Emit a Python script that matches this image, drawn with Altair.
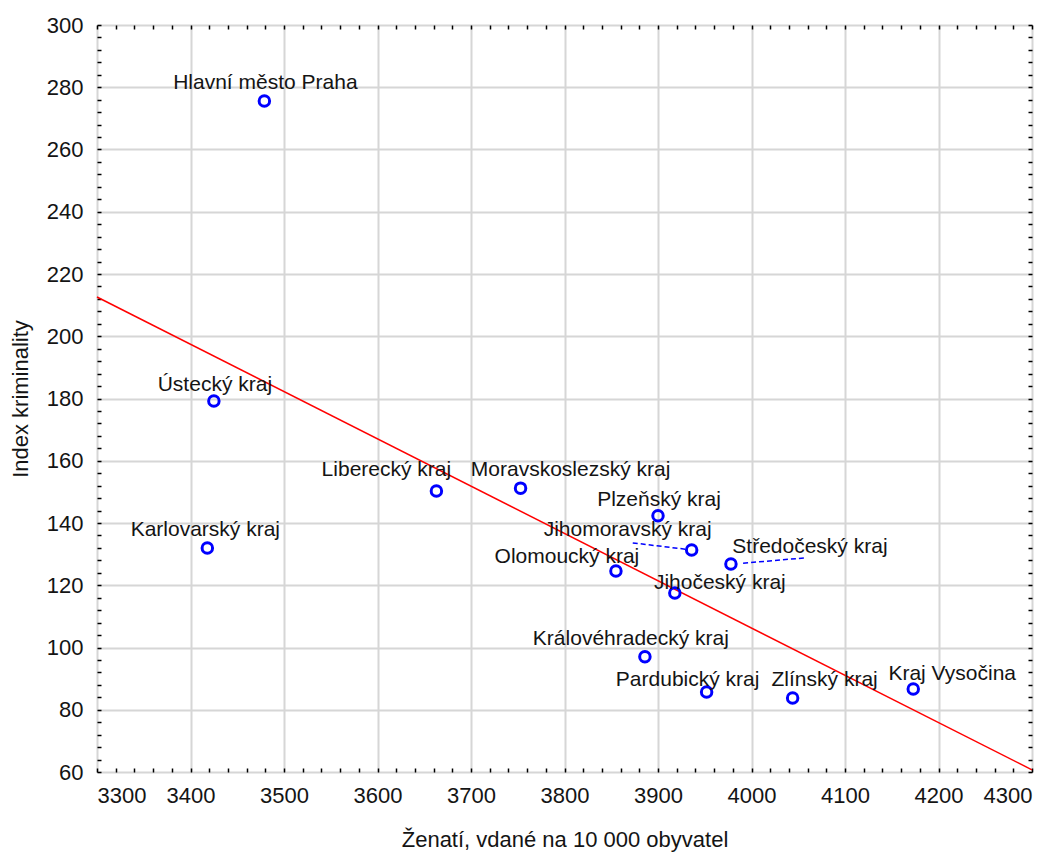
import altair as alt
import pandas as pd

# ---- data ----
regions = [
    "Hlavní město Praha", "Ústecký kraj", "Karlovarský kraj", "Liberecký kraj",
    "Moravskoslezský kraj", "Plzeňský kraj", "Jihomoravský kraj", "Středočeský kraj",
    "Olomoucký kraj", "Jihočeský kraj", "Královéhradecký kraj", "Pardubický kraj",
    "Zlínský kraj", "Kraj Vysočina",
]
married = [3479, 3425, 3418, 3663, 3753, 3900, 3936, 3978, 3855, 3918, 3886, 3952, 4044, 4173]
crime_index = [275.6, 179.2, 132.0, 150.3, 151.2, 142.3, 131.3, 126.8, 124.6, 117.5, 97.0, 85.7, 83.8, 86.7]

trend_x = [3300, 4300]
trend_y = [212.6, 60.7]

# dashed leader lines (label end -> point end), data units
leader_region = ["Jihomoravský kraj", "Středočeský kraj"]
leader_x1 = [3873, 3991]
leader_y1 = [133.6, 127.1]
leader_x2 = [3929, 4058]
leader_y2 = [131.6, 128.8]

x_major = list(range(3300, 4301, 100))
x_minor = list(range(3300, 4301, 20))
y_major = list(range(60, 301, 20))
y_minor = list(range(60, 301, 4))

# ---- styling ----
FONT = "Liberation Sans"
TXT = "#141414"
W, H = 935, 747
label_offsets = {
    "Hlavní město Praha": (1, -18),
    "Ústecký kraj": (1, -16),
    "Karlovarský kraj": (-2, -18),
    "Liberecký kraj": (-50, -21),
    "Moravskoslezský kraj": (50, -18),
    "Plzeňský kraj": (1, -16),
    "Jihomoravský kraj": (-64, -20),
    "Středočeský kraj": (79, -17),
    "Olomoucký kraj": (-49, -14),
    "Jihočeský kraj": (45, -10),
    "Královéhradecký kraj": (-14, -18),
    "Pardubický kraj": (-19, -12),
    "Zlínský kraj": (32, -18),
    "Kraj Vysočina": (39, -15),
}

df = pd.DataFrame({"kraj": regions, "x": married, "y": crime_index})
trend = pd.DataFrame({"x": trend_x, "y": trend_y})
leaders = pd.DataFrame({"kraj": leader_region, "x": leader_x1, "y": leader_y1,
                        "x2": leader_x2, "y2": leader_y2})

xs = alt.Scale(domain=[3300, 4300], nice=False, zero=False)
ys = alt.Scale(domain=[60, 300], nice=False, zero=False)

x_main = alt.Axis(values=x_major, format="d", title="Ženatí, vdané na 10 000 obyvatel",
                  grid=True, gridColor="#d6d6d6", gridWidth=2, domain=False, ticks=False,
                  labelFont=FONT, labelFontSize=22, labelColor=TXT, labelPadding=13,
                  titleFont=FONT, titleFontSize=22, titleFontWeight="normal", titleColor=TXT,
                  titlePadding=23)
y_main = alt.Axis(values=y_major, format="d", title="Index kriminality",
                  grid=True, gridColor="#d6d6d6", gridWidth=2, domain=False, ticks=False,
                  labelFont=FONT, labelFontSize=22, labelColor=TXT, labelPadding=14,
                  titleFont=FONT, titleFontSize=22, titleFontWeight="normal", titleColor=TXT,
                  titlePadding=14)

def tick_axis(values, orient, offset):
    return alt.Axis(values=values, orient=orient, offset=offset, labels=False, domain=False,
                    grid=False, ticks=True, tickSize=4, tickWidth=1.5, tickColor="black",
                    title=None)

trend_layer = alt.Chart(trend).mark_line(color="#ff0000", strokeWidth=1.5).encode(
    x=alt.X("x:Q", scale=xs, axis=tick_axis(x_minor, "top", -H)),
    y=alt.Y("y:Q", scale=ys, axis=tick_axis(y_minor, "right", -W)),
)

leader_layer = alt.Chart(leaders).mark_rule(color="#0000ff", strokeWidth=1.5,
                                            strokeDash=[5, 3]).encode(
    x=alt.X("x:Q", scale=xs, axis=tick_axis(x_minor, "bottom", -H)),
    y=alt.Y("y:Q", scale=ys, axis=tick_axis(y_minor, "left", -W)),
    x2="x2:Q", y2="y2:Q",
)

point_layer = alt.Chart(df).mark_point(shape="circle", filled=False, color="#0000ff",
                                       size=110, strokeWidth=3, opacity=1).encode(
    x=alt.X("x:Q", scale=xs, axis=x_main),
    y=alt.Y("y:Q", scale=ys, axis=y_main),
)

label_layers = []
for name, (dx, dy) in label_offsets.items():
    label_layers.append(
        alt.Chart(df).transform_filter(alt.datum.kraj == name)
        .mark_text(font=FONT, fontSize=21, color=TXT, align="center", baseline="middle",
                   dx=dx, dy=dy)
        .encode(x=alt.X("x:Q", scale=xs, axis=None), y=alt.Y("y:Q", scale=ys, axis=None),
                text="kraj:N")
    )

chart = alt.layer(trend_layer, leader_layer, point_layer, *label_layers).resolve_axis(
    x="independent", y="independent"
).properties(
    width=W, height=H,
    autosize=alt.AutoSizeParams(type="none"),
    padding={"left": 89, "top": 17, "right": 19, "bottom": 80},
).configure_view(stroke="black", strokeWidth=2).configure(background="white")

chart.save("out.html", embed_options={"renderer": "svg", "actions": False})
